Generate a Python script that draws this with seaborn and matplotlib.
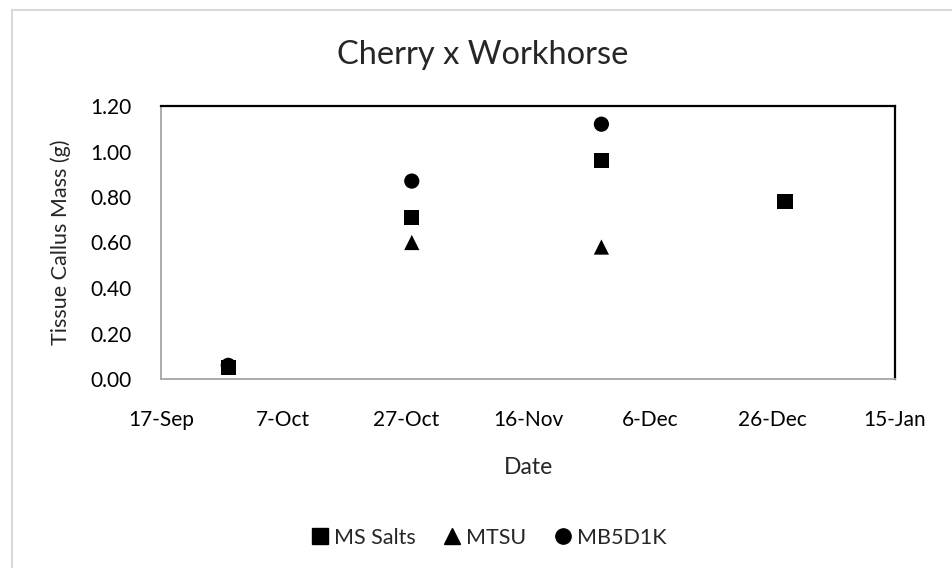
import numpy as np
import pandas as pd
import matplotlib
matplotlib.use("Agg")
import matplotlib.pyplot as plt
from matplotlib.patches import Rectangle
import seaborn as sns

# ---- data ----
series_names = ["MS Salts", "MTSU", "MB5D1K"]
ms_dates = ["2019-09-28", "2019-10-28", "2019-11-28", "2019-12-28"]
ms_values = [0.05, 0.71, 0.96, 0.78]
mtsu_dates = ["2019-10-28", "2019-11-28"]
mtsu_values = [0.60, 0.58]
mb_dates = ["2019-09-28", "2019-10-28", "2019-11-28"]
mb_values = [0.06, 0.87, 1.12]
tick_dates = ["2019-09-17", "2019-10-07", "2019-10-27", "2019-11-16",
              "2019-12-06", "2019-12-26", "2020-01-15"]
y_ticks = [0.0, 0.2, 0.4, 0.6, 0.8, 1.0, 1.2]

rows = []
for name, ds, vs in zip(series_names, [ms_dates, mtsu_dates, mb_dates],
                        [ms_values, mtsu_values, mb_values]):
    for d, v in zip(ds, vs):
        rows.append({"Date": pd.Timestamp(d), "Mass": v, "Series": name})
df = pd.DataFrame(rows)

sns.set_theme(style="white")
plt.rcParams["font.family"] = ["Lato", "DejaVu Sans"]

fig = plt.figure(figsize=(9.52, 5.68), dpi=100)
ax = fig.add_axes([161/952, 1-379/568, (895-161)/952, (379-106)/568])

markers = {"MS Salts": "s", "MTSU": "^", "MB5D1K": "o"}
sns.scatterplot(data=df, x="Date", y="Mass", style="Series", markers=markers,
                style_order=series_names, color="black", s=120, linewidth=0,
                ax=ax, legend=False)

ticks = [pd.Timestamp(t) for t in tick_dates]
ax.set_xlim(ticks[0], ticks[-1])
ax.set_xticks(ticks)
ax.set_xticklabels([f"{t.day}-{t.strftime('%b')}" for t in ticks])
ax.set_ylim(0, 1.2)
ax.set_yticks(y_ticks)
ax.set_yticklabels([f"{v:.2f}" for v in y_ticks])
ax.tick_params(axis="both", labelsize=15, colors="black", length=0)
ax.tick_params(axis="y", pad=21)
ax.tick_params(axis="x", pad=22)

for side in ["left", "bottom"]:
    ax.spines[side].set_color("#A6A6A6")
    ax.spines[side].set_linewidth(1.3)
for side in ["top", "right"]:
    ax.spines[side].set_color("black")
    ax.spines[side].set_linewidth(1.6)

ax.set_xlabel("Date", fontsize=16.5, labelpad=20)
ax.set_ylabel("Tissue Callus Mass (g)", fontsize=15.5, labelpad=14)
fig.text(483/952, 1-55/568, "Cherry x Workhorse", fontsize=23.5, ha="center", va="center")

handles = [plt.Line2D([], [], marker=markers[n], color="black", linestyle="none",
                      markersize=11, label=n) for n in series_names]
fig.legend(handles=handles, loc="center", bbox_to_anchor=(488/952, 1-538/568),
           ncol=3, frameon=False, fontsize=15.5, handletextpad=0.15,
           columnspacing=1.2, handlelength=1.0)

fig.patches.append(Rectangle((12/952, -0.05), 1.2, 1-10/568+0.05,
                             transform=fig.transFigure, fill=False,
                             edgecolor="#D9D9D9", linewidth=1.5))

fig.savefig("out.png", dpi=100)
